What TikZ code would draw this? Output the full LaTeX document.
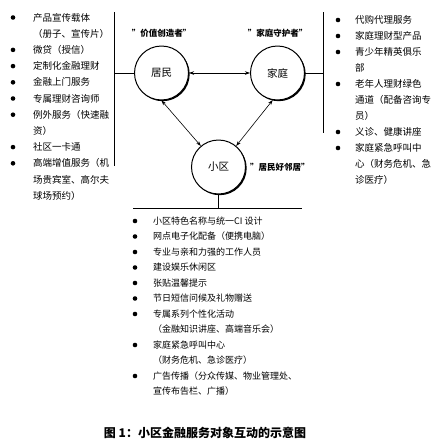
\documentclass[tikz,border=0pt]{standalone}
\usepackage{fontspec}
\setmainfont{Noto Sans CJK SC}
\usetikzlibrary{arrows.meta, positioning, shadows}

\tikzset{
  role/.style={circle, draw, line width=1pt, fill=white, minimum size=54pt, inner sep=0pt,
    font=\fontsize{10.5}{12}\selectfont,
    drop shadow={shadow xshift=1.2pt, shadow yshift=-1.2pt, fill=black, opacity=1}},
  motto/.style={inner sep=0pt, font=\fontsize{8.5}{10}\selectfont\bfseries},
  link/.style={{Stealth[length=5pt,width=3.5pt]}-{Stealth[length=5pt,width=3.5pt]}, line width=0.6pt},
  entry/.style={anchor=west, inner sep=0pt, font=\fontsize{9.5}{11}\selectfont},
  bracket/.style={line width=0.8pt}
}

\begin{document}
\begin{tikzpicture}[x=1pt,y=-1pt]
    \useasboundingbox (0,0) rectangle (441,445);

    % roles
    \node[role] (resident) at (161.5,73) {居民};
    \node[role] (family) at (277.5,73) {家庭};
    \node[role] (community) at (218.5,167) {小区};

    % mottos
    \node[motto, above=8pt of resident] (residentmotto) {"价值创造者"};
    \node[motto, above=8pt of family] (familymotto) {"家庭守护者"};
    \node[motto, right=4pt of community] (communitymotto) {"居民好邻居"};

    % links between roles
    \draw[link] (resident.east) -- (family.west);
    \draw[link] (resident.south) -- (community.130);
    \draw[link] (family.-100) -- (community.50);

    % brackets
    \coordinate (lbT) at (114,12);
    \coordinate (lbB) at (114,166);
    \coordinate (rbT) at (323,12);
    \coordinate (rbB) at (323,133);
    \coordinate (barL) at (133,208);
    \coordinate (barR) at (302,208);
    \draw[bracket] (lbT) -- (lbB);
    \draw[bracket] (lbT |- resident) -- (resident.west);
    \draw[bracket] (rbT) -- (rbB);
    \draw[bracket] (family.east) -- (rbT |- family);
    \draw[bracket] (community.south) -- (community.south |- barL);
    \draw[bracket] (barL) -- (barR);

    % resident services
    \foreach \b/\t [count=\i] in {1/产品宣传载体, 0/（册子、宣传片）, 1/微贷（授信）,
        1/定制化金融理财, 1/金融上门服务, 1/专属理财咨询师, 1/例外服务（快速融,
        0/资）, 1/社区一卡通, 1/高端增值服务（机, 0/场贵宾室、高尔夫, 0/球场预约）}{
        \node[entry] (left\i) at (33,17.5+16.2*\i-16.2) {\t};
        \ifnum\b=1 \fill (13,17.5+16.2*\i-16.2) circle (2.3pt); \fi
    }

    % family services
    \foreach \b/\t [count=\i] in {1/代购代理服务, 1/家庭理财型产品, 1/青少年精英俱乐,
        0/部, 1/老年人理财绿色, 0/通道（配备咨询专, 0/员）, 1/义诊、健康讲座,
        1/家庭紧急呼叫中, 0/心（财务危机、急, 0/诊医疗）}{
        \node[entry] (right\i) at (355,20+16*\i-16) {\t};
        \ifnum\b=1 \fill (338,20+16*\i-16) circle (2.3pt); \fi
    }

    % community services
    \foreach \b/\t [count=\i] in {1/小区特色名称与统一CI 设计, 1/网点电子化配备（便携电脑）,
        1/专业与亲和力强的工作人员, 1/建设娱乐休闲区, 1/张贴温馨提示,
        1/节日短信问候及礼物赠送, 1/专属系列个性化活动, 0/（金融知识讲座、高端音乐会）,
        1/家庭紧急呼叫中心, 0/（财务危机、急诊医疗）,
        1/广告传播（分众传媒、物业管理处、, 0/宣传布告栏、广播）}{
        \node[entry, font=\fontsize{9}{11}\selectfont] (bottom\i) at (153,221+15.5*\i-15.5) {\t};
        \ifnum\b=1 \fill (135,221+15.5*\i-15.5) circle (2.3pt); \fi
    }

    % caption
    \node[font=\fontsize{12}{14}\selectfont\bfseries] (caption) at (205,433) {图 1：小区金融服务对象互动的示意图};
\end{tikzpicture}
\end{document}
